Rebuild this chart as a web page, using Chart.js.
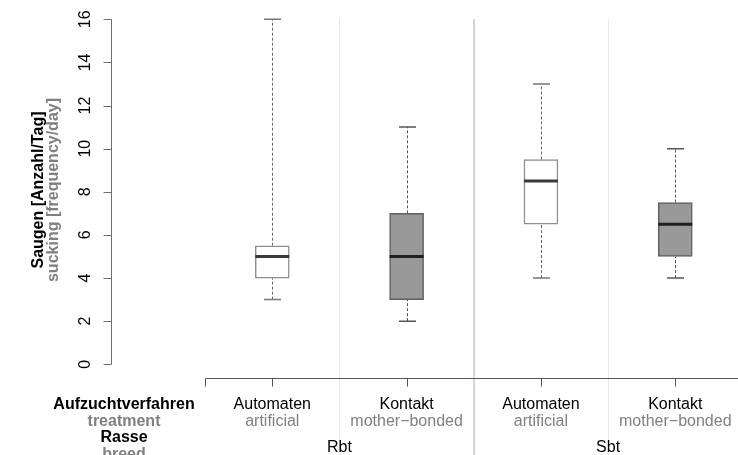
<!DOCTYPE html>
<html><head><meta charset="utf-8">
<script src="https://cdn.jsdelivr.net/npm/chart.js@4/dist/chart.umd.min.js"></script>
<style>html,body{margin:0;padding:0;background:#fff;overflow:hidden}#wrap{width:738px;height:455px}</style>
</head><body><div id="wrap"><canvas id="c" width="738" height="455"></canvas></div>
<script>
// ---- data ----
const categories = ['Automaten', 'Kontakt', 'Automaten', 'Kontakt'];
const categoriesEn = ['artificial', 'mother\u2212bonded', 'artificial', 'mother\u2212bonded'];
const breeds = ['Rbt', 'Sbt'];
const whiskerLow = [3, 2, 4, 4];
const q1 = [4, 3, 6.5, 5];
const medians = [5, 5, 8.5, 6.5];
const q3 = [5.5, 7, 9.5, 7.5];
const whiskerHigh = [16, 11, 13, 10];
const yTicks = [0, 2, 4, 6, 8, 10, 12, 14, 16];
const yTitle = 'Saugen [Anzahl/Tag]';
const yTitleEn = 'sucking [frequency/day]';
const rowLabels = ['Aufzuchtverfahren', 'treatment', 'Rasse', 'breed'];

const FONT = "'Liberation Sans', Arial, sans-serif";
const GREY_TXT = '#808080';

const rPlot = {
  id: 'rPlot',
  beforeDatasetsDraw(chart) {
    const { ctx, scales: { x, y } } = chart;
    ctx.save();
    // separators between categories
    [1.5, 2.5, 3.5].forEach(v => {
      const px = Math.round(x.getPixelForValue(v));
      ctx.beginPath();
      ctx.strokeStyle = v === 2.5 ? '#d4d4d4' : '#e9e9e9';
      ctx.lineWidth = v === 2.5 ? 2 : 1;
      ctx.moveTo(v === 2.5 ? px : px + 0.5, y.getPixelForValue(16));
      ctx.lineTo(v === 2.5 ? px : px + 0.5, 455);
      ctx.stroke();
    });
    // whiskers
    categories.forEach((c, i) => {
      const px = Math.round(x.getPixelForValue(i + 1)) + 0.5;
      const dark = i % 2 === 1;
      ctx.strokeStyle = dark ? '#555555' : '#666666';
      ctx.lineWidth = 1;
      ctx.setLineDash([3, 2]);
      ctx.beginPath();
      ctx.moveTo(px, y.getPixelForValue(whiskerLow[i]));
      ctx.lineTo(px, y.getPixelForValue(q1[i]));
      ctx.moveTo(px, y.getPixelForValue(q3[i]));
      ctx.lineTo(px, y.getPixelForValue(whiskerHigh[i]));
      ctx.stroke();
      ctx.setLineDash([]);
      ctx.lineWidth = 1.5;
      ctx.strokeStyle = dark ? '#555555' : '#777777';
      ctx.beginPath();
      [whiskerLow[i], whiskerHigh[i]].forEach(v => {
        const py = y.getPixelForValue(v);
        ctx.moveTo(px - 8.5, py);
        ctx.lineTo(px + 8.5, py);
      });
      ctx.stroke();
    });
    ctx.restore();
  },
  afterDatasetsDraw(chart) {
    const { ctx, scales: { x, y } } = chart;
    ctx.save();
    // medians
    categories.forEach((c, i) => {
      const px = x.getPixelForValue(i + 1);
      const py = y.getPixelForValue(medians[i]);
      ctx.strokeStyle = i % 2 ? '#1e1e1e' : '#3a3a3a';
      ctx.lineWidth = 3;
      ctx.beginPath();
      ctx.moveTo(px - 17, py);
      ctx.lineTo(px + 17, py);
      ctx.stroke();
    });
    // y axis
    const ax = 111.5;
    ctx.strokeStyle = '#6e6e6e';
    ctx.lineWidth = 1;
    ctx.beginPath();
    ctx.moveTo(ax, y.getPixelForValue(yTicks[0]));
    ctx.lineTo(ax, y.getPixelForValue(yTicks[yTicks.length - 1]));
    yTicks.forEach(t => {
      const py = Math.round(y.getPixelForValue(t)) + 0.5;
      ctx.moveTo(ax, py);
      ctx.lineTo(ax - 8, py);
    });
    ctx.stroke();
    ctx.fillStyle = '#000';
    ctx.font = '16px ' + FONT;
    ctx.textAlign = 'center';
    ctx.textBaseline = 'alphabetic';
    yTicks.forEach(t => {
      const py = y.getPixelForValue(t);
      ctx.save();
      ctx.translate(90, py);
      ctx.rotate(-Math.PI / 2);
      ctx.fillText(String(t), 0, 0);
      ctx.restore();
    });
    // y titles
    ctx.font = 'bold 16px ' + FONT;
    const yc = 190;
    ctx.save();
    ctx.translate(43, yc);
    ctx.rotate(-Math.PI / 2);
    ctx.fillStyle = '#000';
    ctx.fillText(yTitle, 0, 0);
    ctx.restore();
    ctx.save();
    ctx.translate(58, yc);
    ctx.rotate(-Math.PI / 2);
    ctx.fillStyle = GREY_TXT;
    ctx.fillText(yTitleEn, 0, 0);
    ctx.restore();
    // x axis
    const ay = 378.5;
    ctx.strokeStyle = '#555555';
    ctx.lineWidth = 1;
    ctx.beginPath();
    const x0 = Math.round(x.getPixelForValue(0.5)) + 0.5;
    ctx.moveTo(x0, ay);
    ctx.lineTo(738, ay);
    ctx.moveTo(x0, ay);
    ctx.lineTo(x0, ay + 8);
    categories.forEach((c, i) => {
      const px = Math.round(x.getPixelForValue(i + 1)) + 0.5;
      ctx.moveTo(px, ay);
      ctx.lineTo(px, ay + 8);
    });
    ctx.stroke();
    // row labels on the left
    const rows = [409, 425.5, 442, 458.5];
    ctx.textAlign = 'center';
    rowLabels.forEach((t, k) => {
      ctx.font = 'bold 16px ' + FONT;
      ctx.fillStyle = k % 2 ? GREY_TXT : '#000';
      ctx.fillText(t, 124, rows[k]);
    });
    // category labels
    ctx.font = '16px ' + FONT;
    categories.forEach((c, i) => {
      const px = x.getPixelForValue(i + 1);
      ctx.fillStyle = '#000';
      ctx.fillText(c, px, rows[0]);
      ctx.fillStyle = GREY_TXT;
      ctx.fillText(categoriesEn[i], px, rows[1]);
    });
    breeds.forEach((b, k) => {
      const px = x.getPixelForValue(1.5 + 2 * k);
      ctx.fillStyle = '#000';
      ctx.fillText(b, px, 451.5);
    });
    ctx.restore();
  }
};

new Chart(document.getElementById('c').getContext('2d'), {
  type: 'bar',
  data: {
    datasets: [{
      data: categories.map((c, i) => ({ x: i + 1, y: [q1[i], q3[i]] })),
      backgroundColor: ctx => (ctx.dataIndex % 2 ? '#999999' : '#ffffff'),
      borderColor: ctx => (ctx.dataIndex % 2 ? '#606060' : '#8f8f8f'),
      borderWidth: 1.5,
      borderSkipped: false,
      barThickness: 34
    }]
  },
  options: {
    responsive: false,
    animation: false,
    devicePixelRatio: 1,
    layout: { padding: { left: 205.1, right: 0, top: 19.3, bottom: 90.7 } },
    scales: {
      x: { type: 'linear', min: 0.5, max: 4.467, offset: false, display: false },
      y: { type: 'linear', min: 0, max: 16, display: false }
    },
    plugins: { legend: { display: false }, tooltip: { enabled: false } }
  },
  plugins: [rPlot]
});
</script>
</body></html>
